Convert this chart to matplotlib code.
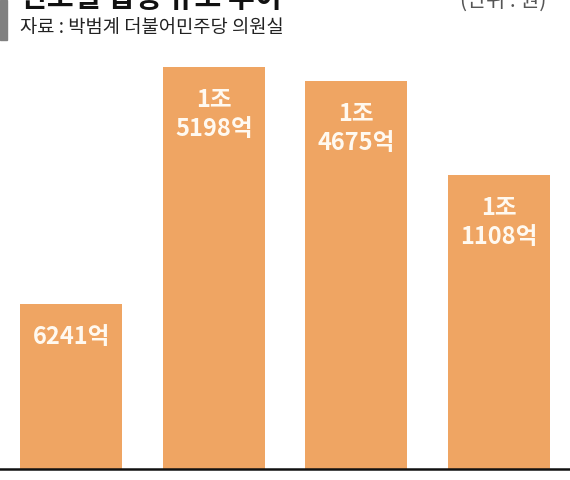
import matplotlib
matplotlib.use("Agg")
import matplotlib.pyplot as plt
from matplotlib.patches import Rectangle

plt.rcParams['font.family'] = ['Noto Sans CJK KR', 'DejaVu Sans']

# data (억 원)
values = [6241, 15198, 14675, 11108]
labels = ['6241억', '1조\n5198억', '1조\n4675억', '1조\n1108억']
source = '자료 : 박범계 더불어민주당 의원실'
title = '연도별 집행 규모 추이'
unit = '(단위 : 원)'

bar_color = '#EFA563'

fig = plt.figure(figsize=(5.7, 4.8), dpi=100)
ax = fig.add_axes([0, 11 / 480, 1, 419 / 480])

x = range(len(values))
ax.bar(x, values, width=0.715, color=bar_color, zorder=2)
ax.set_xlim(-0.5, 3.5)
ax.set_ylim(0, 15840)

# labels inside bars
for i, (v, lab) in enumerate(zip(values, labels)):
    ax.annotate(lab, (i, v), xytext=(0, -21), textcoords='offset pixels',
                ha='center', va='top', color='#FFF9F0', fontsize=17,
                fontweight='bold', linespacing=1.25)

for s in ['top', 'left', 'right']:
    ax.spines[s].set_visible(False)
ax.spines['bottom'].set_color('#111111')
ax.spines['bottom'].set_linewidth(1.8)
ax.set_xticks([])
ax.set_yticks([])

# header: gray bar, clipped title and source
fig.patches.append(Rectangle((0, 1 - 40 / 480), 7 / 570, 40 / 480,
                             transform=fig.transFigure, color='#808080'))
fig.text(20 / 570, 1 - 7 / 480, title, fontsize=21, fontweight='bold',
         color='#111111', va='baseline', ha='left')
fig.text(546 / 570, 1 - 7 / 480, unit, fontsize=15, color='#555555',
         va='baseline', ha='right')
fig.text(20 / 570, 1 - 27 / 480, source, fontsize=13.5, color='#222222',
         va='center', ha='left')

fig.savefig('out.png', dpi=100)
